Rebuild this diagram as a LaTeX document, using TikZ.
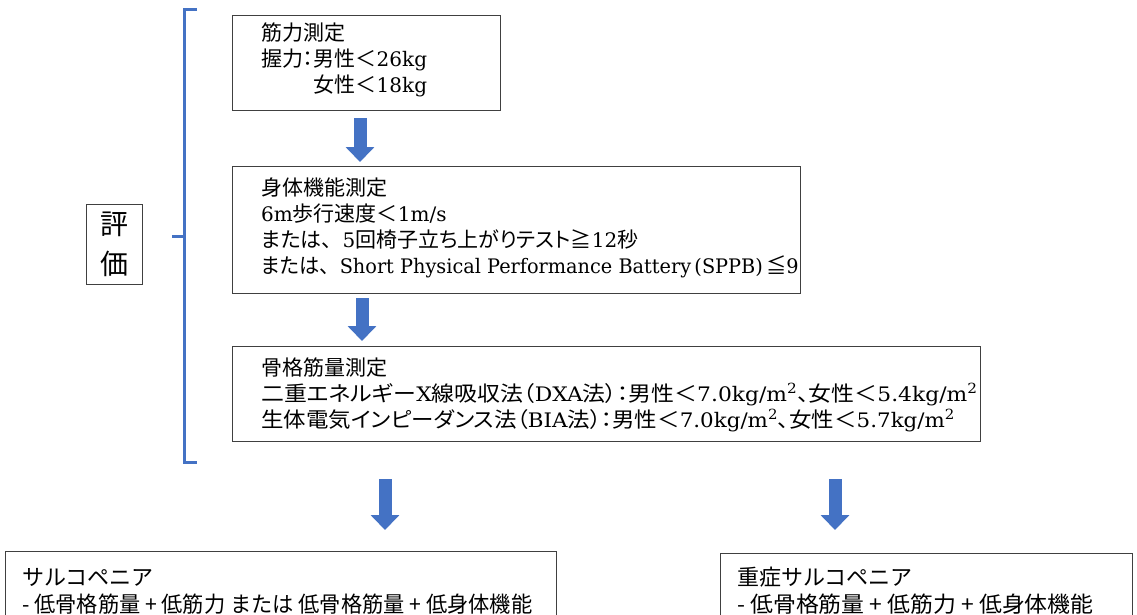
\documentclass[tikz,border=0pt]{standalone}
\usepackage{fontspec}
\setmainfont{DejaVu Serif}
\newfontfamily\jp[RawFeature=+palt]{Noto Sans CJK JP}
\newfontfamily\jpg{Noto Sans CJK JP}
\usetikzlibrary{arrows.meta}
\newcommand{\J}[1]{{\fontsize{21}{24}\jp #1}}
\newcommand{\JF}[1]{{\fontsize{21}{24}\jpg #1}}
\definecolor{arrowblue}{HTML}{4472C4}
\definecolor{boxline}{HTML}{404040}
\tikzset{
  x=1pt, y=-1pt,
  box/.style={draw=boxline, line width=1.3pt, anchor=north west, inner sep=0pt},
  ln/.style={anchor=west, inner sep=0pt, font=\fontsize{20}{24}\selectfont, text height=16pt, text depth=2pt},
  lnsans/.style={ln, font=\fontsize{22}{24}\jpg},
  barrow/.style={arrowblue, line width=13pt, -{Triangle[width=28pt,length=15pt]}},
  bracket/.style={draw=arrowblue, line width=3pt}
}
\begin{document}
\begin{tikzpicture}
\clip (0,0) rectangle (1137,615);
\fill[white] (0,0) rectangle (1137,615);
% evaluation label
\node[box, minimum width=56pt, minimum height=80pt] (ev) at (86,204) {};
\node[anchor=center, inner sep=0pt, align=center, font=\fontsize{28}{40}\jpg] (evt) at (ev.center) {評\\価};
% bracket
\draw[bracket] (197,10) -- (184,10) -- (184,462) -- (197,462);
\draw[bracket] (184,236) -- (172,236);
% box 1
\node[box, minimum width=268pt, minimum height=95pt] (b1) at (232,15) {};
\node[ln] (t11) at (261,34) {\J{筋力測定}};
\node[ln] (t12) at (261,60) {\J{握力：男性＜}26kg};
\node[ln] (t13) at (261,86) {\J{\phantom{握力：}女性＜}18kg};
% box 2
\node[box, minimum width=568pt, minimum height=127pt] (b2) at (232,166) {};
\node[ln] (t21) at (261,188) {\J{身体機能測定}};
\node[ln] (t22) at (261,214) {6m\J{歩行速度＜}1m/s};
\node[ln] (t23) at (261,240) {\J{または}\JF{、}5\J{回椅子立ち上がりテスト≧}12\J{秒}};
\node[ln] (t24) at (261,266) {\scalebox{0.965}[1]{\J{または}\JF{、}Short Physical Performance Battery\,(SPPB)\,\J{≦}9}};
% box 3
\node[box, minimum width=748pt, minimum height=95pt] (b3) at (232,346) {};
\node[ln] (t31) at (261,368) {\J{骨格筋量測定}};
\node[ln] (t32) at (261,394) {\scalebox{1.09}[1]{\J{二重エネルギー}X\J{線吸収法（}DXA\J{法）：男性＜}7.0kg/m\textsuperscript{2}\J{、女性＜}5.4kg/m\textsuperscript{2}}};
\node[ln] (t33) at (261,420) {\scalebox{1.07}[1]{\J{生体電気インピーダンス法（}BIA\J{法）：男性＜}7.0kg/m\textsuperscript{2}\J{、女性＜}5.7kg/m\textsuperscript{2}}};
% bottom boxes
\node[box, minimum width=551pt, minimum height=90pt] (b4) at (5,551) {};
\node[lnsans] (t41) at (22,578) {サルコペニア};
\node[lnsans] (t42) at (22,605) {\scalebox{0.965}[1]{- 低骨格筋量 + 低筋力 または 低骨格筋量 + 低身体機能}};
\node[box, minimum width=412pt, minimum height=90pt] (b5) at (720,553) {};
\node[lnsans] (t51) at (737,578) {重症サルコペニア};
\node[lnsans] (t52) at (737,605) {\scalebox{1.04}[1]{- 低骨格筋量 + 低筋力 + 低身体機能}};
% arrows
\coordinate (ax1) at (360,0);
\coordinate (ax2) at (362,0);
\coordinate (ax3) at (385,0);
\coordinate (ax4) at (835,0);
\draw[barrow] ([yshift=-7pt]b1.south -| ax1) -- ([yshift=4pt]b2.north -| ax1);
\draw[barrow] ([yshift=-4pt]b2.south -| ax2) -- ([yshift=5pt]b3.north -| ax2);
\draw[barrow] ([yshift=-37pt]b3.south -| ax3) -- ([yshift=21pt]b4.north -| ax3);
\draw[barrow] ([yshift=-37pt]b3.south -| ax4) -- ([yshift=23pt]b5.north -| ax4);
\end{tikzpicture}
\end{document}
